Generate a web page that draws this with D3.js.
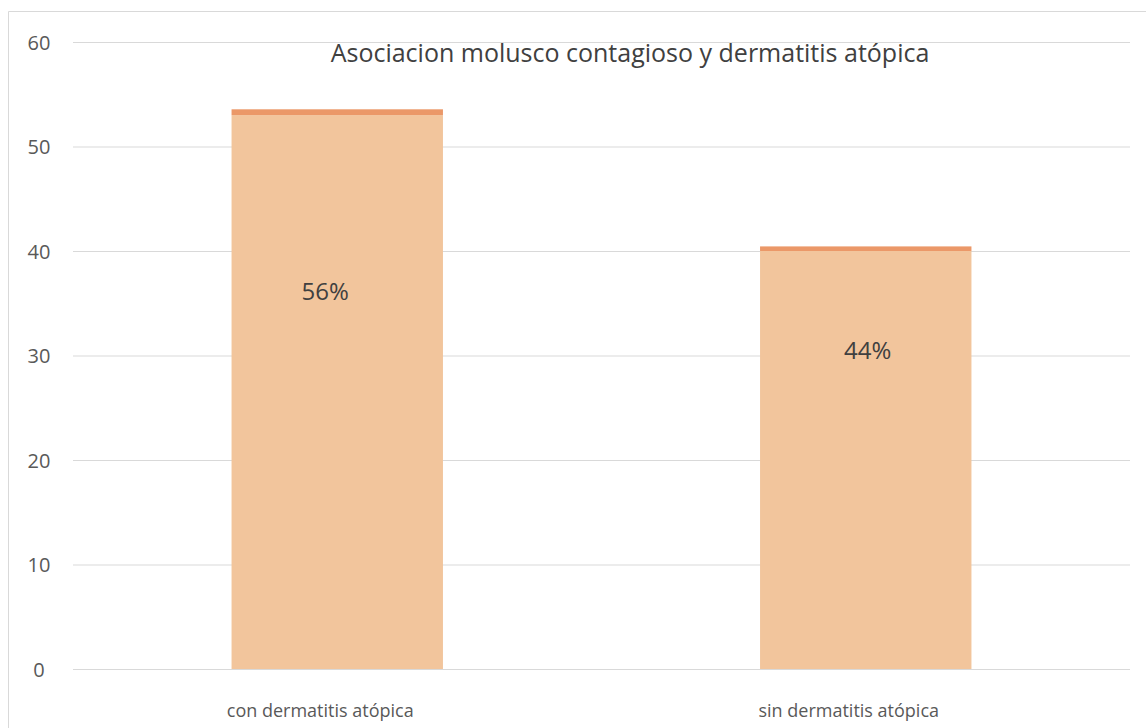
<!DOCTYPE html>
<html>
<head>
<meta charset="utf-8">
<script src="https://cdn.jsdelivr.net/npm/d3@7"></script>
<style>
  body { margin: 0; background: #fff; }
  text { font-family: "Open Sans", Lato, sans-serif; }
</style>
</head>
<body>
<div id="chart-area"></div>
<script>
// datos del grafico
var categorias = ["con dermatitis atópica", "sin dermatitis atópica"];
var casos = [53, 40];
var porcentajes = [0.56, 0.44];
var etiquetas = ["56%", "44%"];
var ticksY = [0, 10, 20, 30, 40, 50, 60];

var W = 1146, H = 728;
var margin = { left: 73, right: 16, top: 42, bottom: 59 };
var width = W - margin.left - margin.right,
    height = H - margin.top - margin.bottom;

// donde van las etiquetas de % (a mano, como en el original)
var labelPos = [ { dx: -12, y: 35.3 }, { dx: 2, y: 29.7 } ];

var svg = d3.select("#chart-area")
  .append("svg")
    .attr("width", W)
    .attr("height", H);

// borde del area del grafico
svg.append("path")
  .attr("d", "M8.5," + (H + 2) + " V11.5 H" + (W + 2))
  .attr("fill", "none")
  .attr("stroke", "#d9d9d9")
  .attr("stroke-width", 1);

var g = svg.append("g")
  .attr("transform", "translate(" + margin.left + "," + margin.top + ")");

var x = d3.scaleBand()
  .domain(categorias)
  .range([0, width])
  .paddingInner(0.6)
  .paddingOuter(0.3);

var y = d3.scaleLinear()
  .domain([0, 60])
  .range([height, 0]);

// grid
var yAxisCall = d3.axisLeft(y)
  .tickValues(ticksY)
  .tickSize(-width)
  .tickPadding(0)
  .tickFormat(d => d);

var yAxis = g.append("g")
  .attr("class", "yAxis")
  .call(yAxisCall);
yAxis.select(".domain").remove();
yAxis.selectAll("line")
  .attr("stroke", "#d9d9d9")
  .attr("stroke-width", 1);
yAxis.selectAll("text")
  .attr("x", -34)
  .attr("dy", "0.36em")
  .attr("text-anchor", "middle")
  .attr("fill", "#595959")
  .attr("font-size", "20px");

var stack = categorias.map((c, i) => ({ cat: c, n: casos[i], p: porcentajes[i] }));

// barras
g.selectAll(".bar")
  .data(stack)
  .enter()
  .append("rect")
    .attr("class", "bar")
    .attr("x", d => x(d.cat))
    .attr("y", d => y(d.n))
    .attr("width", x.bandwidth())
    .attr("height", d => height - y(d.n))
    .attr("fill", "#f2c59c");

// segmento de porcentaje (apilado encima)
g.selectAll(".cap")
  .data(stack)
  .enter()
  .append("rect")
    .attr("class", "cap")
    .attr("x", d => x(d.cat))
    .attr("y", d => y(d.n + d.p))
    .attr("width", x.bandwidth())
    .attr("height", d => y(d.n) - y(d.n + d.p))
    .attr("fill", "#eb9868");

// etiquetas %
g.selectAll(".pct")
  .data(stack)
  .enter()
  .append("text")
    .attr("class", "pct")
    .attr("x", (d, i) => x(d.cat) + x.bandwidth() / 2 + labelPos[i].dx)
    .attr("y", (d, i) => y(labelPos[i].y))
    .attr("text-anchor", "middle")
    .attr("fill", "#404040")
    .attr("font-size", "24px")
    .text((d, i) => etiquetas[i]);

// categorias
g.selectAll(".cat")
  .data(categorias)
  .enter()
  .append("text")
    .attr("class", "cat")
    .attr("x", d => x(d) + x.bandwidth() / 2 - 17)
    .attr("y", height + 48)
    .attr("text-anchor", "middle")
    .attr("fill", "#595959")
    .attr("font-size", "18px")
    .text(d => d);

// titulo
svg.append("text")
  .attr("x", 630)
  .attr("y", 62)
  .attr("text-anchor", "middle")
  .attr("fill", "#404040")
  .attr("font-size", "25px")
  .text("Asociacion molusco contagioso y dermatitis atópica");
</script>
</body>
</html>
